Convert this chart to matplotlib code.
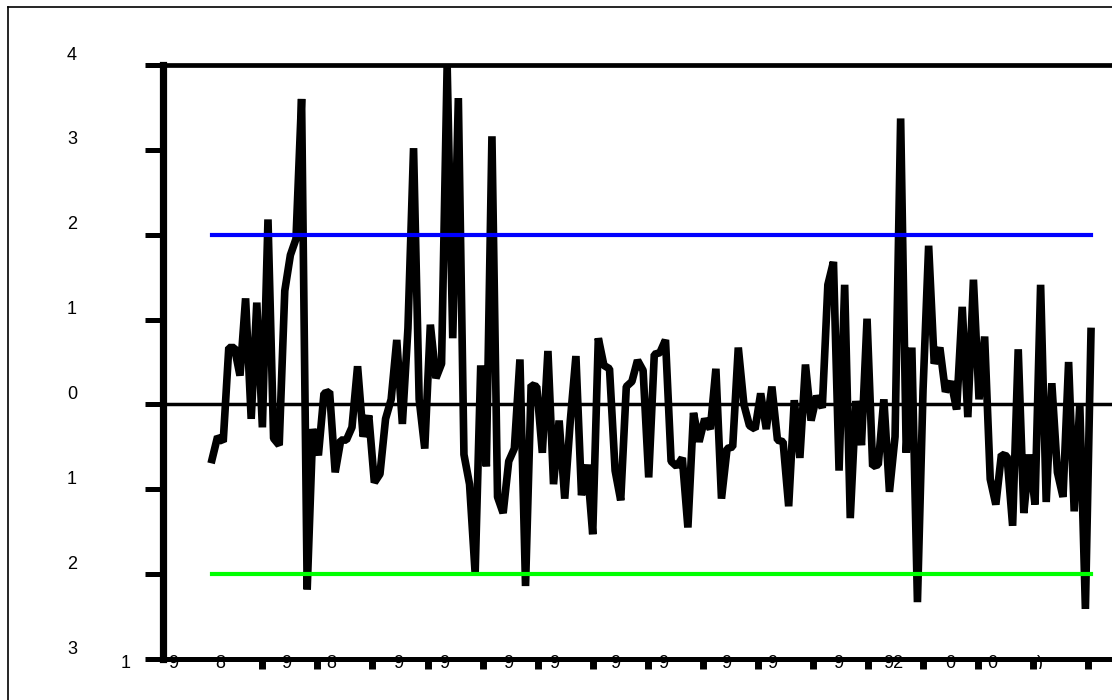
import numpy as np
import matplotlib
matplotlib.use('Agg')
import matplotlib.pyplot as plt
from matplotlib.lines import Line2D
from matplotlib.transforms import Bbox, TransformedBbox, ScaledTranslation

plt.rcParams['font.family'] = ['Liberation Sans', 'DejaVu Sans']

# values, left to right
werte = [
    -0.65, -0.38, -0.44, 0.67, 0.67, 0.34, 1.25, -0.17, 1.20, -0.27,
    2.18, -0.40, -0.48, 1.34, 1.76, 1.95, 3.60, -2.18, -0.29, -0.60,
    0.13, 0.15, -0.80, -0.42, -0.42, -0.27, 0.45, -0.38, -0.13, -0.92,
    -0.82, -0.17, 0.06, 0.76, -0.23, 0.90, 3.02, 0.06, -0.52, 0.94,
    0.31, 0.48, 4.00, 0.78, 3.61, -0.59, -0.94, -1.99, 0.46, -0.73,
    3.16, -1.09, -1.28, -0.67, -0.52, 0.53, -2.14, 0.23, 0.21, -0.57,
    0.63, -0.94, -0.19,
    -1.11, -0.19, 0.57, -1.07, -0.71, -1.53, 0.78, 0.46, 0.42, -0.78,
    -1.13, 0.21, 0.27, 0.52, 0.40, -0.86, 0.59, 0.61, 0.76, -0.67,
    -0.73, -0.63, -1.45, -0.10, -0.44, -0.17, -0.29, 0.42, -1.11, -0.52,
    -0.50, 0.67, 0.00,
    -0.25, -0.29, 0.13, -0.29, 0.21, -0.42, -0.44, -1.20, 0.05, -0.63,
    0.47, -0.19, 0.10, -0.04, 1.41, 1.68, -0.78, 1.41, -1.34, 0.04,
    -0.48, 1.01, -0.73, -0.71, 0.06, -1.03, -0.38, 3.37, -0.57,
    0.67, -2.33, 0.17, 1.87, 0.48, 0.67, 0.15, 0.27, -0.06, 1.15,
    -0.15, 1.47, 0.06, 0.80, -0.88, -1.18, -0.59, -0.61, -1.43, 0.65,
    -1.28, -0.59, -1.18, 1.41, -1.15, 0.25, -0.80, -1.09, 0.50, -1.26,
    0.00, -2.41, 0.86,
]
ucl = 2.0
lcl = -2.0

y_ticks = [4, 3, 2, 1, 0, -1, -2, -3]
y_labels = ['4', '3', '2', '1', '0', '1', '2', '3']

# x labels (only the tops of them show in the original)
x_label_pos = [-6.9, 1.4, 13.3, 21.3, 33.2, 41.4, 52.9, 61.1, 72.1, 80.5,
               91.8, 100.0, 111.9, 121.7, 131.8, 139.3, 147.8]
x_labels = ['9', '8', '9', '8', '9', '9', '9', '9', '9', '9',
            '9', '9', '9', '92', '0', '0', ')']

y = np.array(werte)
x = np.arange(len(y))
n = len(y)

W, H = 1112, 700
fig = plt.figure(figsize=(W / 100, H / 100), dpi=100)

# plot area: spine at 163 px, first point at 212 px, last at 1091 px
dx = (1091 - 212) / (n - 1)
ax = fig.add_axes([163 / W, 41 / H, (1170 - 163) / W, 594 / H])
ax.set_xlim(-(212 - 163) / dx, (1170 - 212) / dx)
ax.set_ylim(-3, 4)

ax.axhline(0, color='black', lw=2.5, zorder=1)
ax.plot(x, y, color='black', lw=5.5, solid_joinstyle='bevel', zorder=2)
ax.plot([x[0], x[-1]], [ucl, ucl], color='#0000ff', lw=3,
        solid_capstyle='projecting', zorder=3)
ax.plot([x[0], x[-1]], [lcl, lcl], color='#00ff00', lw=3,
        solid_capstyle='projecting', zorder=3)

ax.spines['right'].set_visible(False)
ax.spines['left'].set_linewidth(5.2)
ax.spines['bottom'].set_linewidth(3.6)
ax.spines['top'].set_linewidth(3.4)

ax.set_yticks(y_ticks, y_labels, fontsize=13)
ax.tick_params(axis='y', length=13, width=3.6, pad=49)
for lbl in ax.get_yticklabels():
    lbl.set_transform(lbl.get_transform() + ScaledTranslation(0, 12 / 100, fig.dpi_scale_trans))

# block ticks along the bottom
block_pos = np.linspace(9, n - 1 - 0.5, 16)
ax.set_xticks(x_label_pos, x_labels, fontsize=13)
ax.set_xticks(block_pos, minor=True)
ax.tick_params(axis='x', which='major', length=0, pad=-3)
ax.tick_params(axis='x', which='minor', length=7.5, width=5)

clip = TransformedBbox(Bbox.from_bounds(0, 31 / H, 1, 1), fig.transFigure)
for t in ax.xaxis.get_major_ticks():
    t.label1.set_clip_box(clip)
    t.label1.set_clip_on(True)
    t.label1.set_zorder(0)

ax.text(-(212 - 126) / dx, -3, '1', fontsize=13, ha='center', va='center',
        clip_on=False,
        transform=ax.transData + ScaledTranslation(0, -4 / 100, fig.dpi_scale_trans))

# border of the picture
fig.add_artist(Line2D([8 / W, 8 / W], [0, 1 - 7 / H], color='black', lw=1.2,
                      transform=fig.transFigure))
fig.add_artist(Line2D([8 / W, 1], [1 - 7 / H, 1 - 7 / H], color='black', lw=1.2,
                      transform=fig.transFigure))

fig.savefig('out.png', dpi=100)
